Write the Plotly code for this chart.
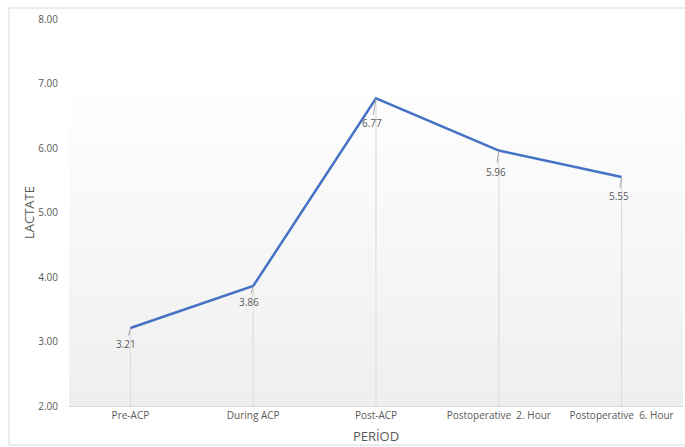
import plotly.graph_objects as go

categories = ["Pre-ACP", "During ACP", "Post-ACP", "Postoperative  2. Hour", "Postoperative  6. Hour"]
lactate = [3.21, 3.86, 6.77, 5.96, 5.55]
y_ticks = [2, 3, 4, 5, 6, 7, 8]
y_tick_labels = ["2.00", "3.00", "4.00", "5.00", "6.00", "7.00", "8.00"]

AXIS_MIN = 2
font_family = "Open Sans, Liberation Sans, sans-serif"
text_color = "#595959"

# label leader offsets (pixels)
label_dx = [-4, -4, -4, -3, -3]
label_dy = [16, 16, 25, 21, 19]

fig = go.Figure()

# drop lines from each point to the axis
fig.add_trace(go.Scatter(
    x=categories, y=lactate, mode="markers",
    marker=dict(size=0.1, color="rgba(0,0,0,0)"),
    error_y=dict(type="data", symmetric=False,
                 array=[0] * len(lactate),
                 arrayminus=[v - AXIS_MIN for v in lactate],
                 color="#d9d9d9", thickness=1, width=0),
    hoverinfo="skip", showlegend=False,
))

fig.add_trace(go.Scatter(
    x=categories, y=lactate, mode="lines",
    line=dict(color="#4472C4", width=2.5),
    showlegend=False,
))

for c, v, dx, dy in zip(categories, lactate, label_dx, label_dy):
    fig.add_annotation(
        x=c, y=v, xref="x", yref="y",
        text=f"{v:.2f}", showarrow=True, arrowhead=0,
        arrowcolor="#a6a6a6", arrowwidth=1,
        ax=dx, ay=dy, standoff=0,
        font=dict(family=font_family, size=10, color=text_color),
    )

# gradient plot background
n = 40
top = 0.86
for i in range(n):
    y0 = top * i / n
    y1 = top * (i + 1) / n
    t = i / (n - 1)
    g = int(round(239 + (255 - 239) * t))
    fig.add_shape(type="rect", xref="paper", yref="paper",
                  x0=0, x1=1, y0=y0, y1=y1 + 0.002,
                  fillcolor=f"rgb({g},{g},{g})", line=dict(width=0),
                  layer="below")

# outer chart border
fig.add_shape(type="rect", xref="paper", yref="paper",
              x0=-60 / 614, x1=1.01, y0=-39 / 387, y1=1 + 11 / 387,
              line=dict(color="#d9d9d9", width=1), fillcolor="rgba(0,0,0,0)",
              layer="below")

fig.update_layout(
    width=685, height=447,
    margin=dict(l=69, r=2, t=19, b=41),
    paper_bgcolor="white", plot_bgcolor="white",
    font=dict(family=font_family, color=text_color),
    xaxis=dict(
        type="category", showgrid=False, zeroline=False,
        showline=True, linecolor="#d9d9d9", linewidth=1,
        ticks="", tickfont=dict(size=10, color=text_color),
        title=dict(text="PERİOD", font=dict(size=13, color=text_color), standoff=10),
        range=[-0.5, 4.5],
    ),
    yaxis=dict(
        range=[2, 8], tickvals=y_ticks, ticktext=y_tick_labels,
        showgrid=False, zeroline=False, showline=False,
        ticks="", ticklabelstandoff=10,
        tickfont=dict(size=10, color=text_color),
        title=dict(text="LACTATE", font=dict(size=13, color=text_color), standoff=0),
    ),
)

fig.write_html("out.html")
